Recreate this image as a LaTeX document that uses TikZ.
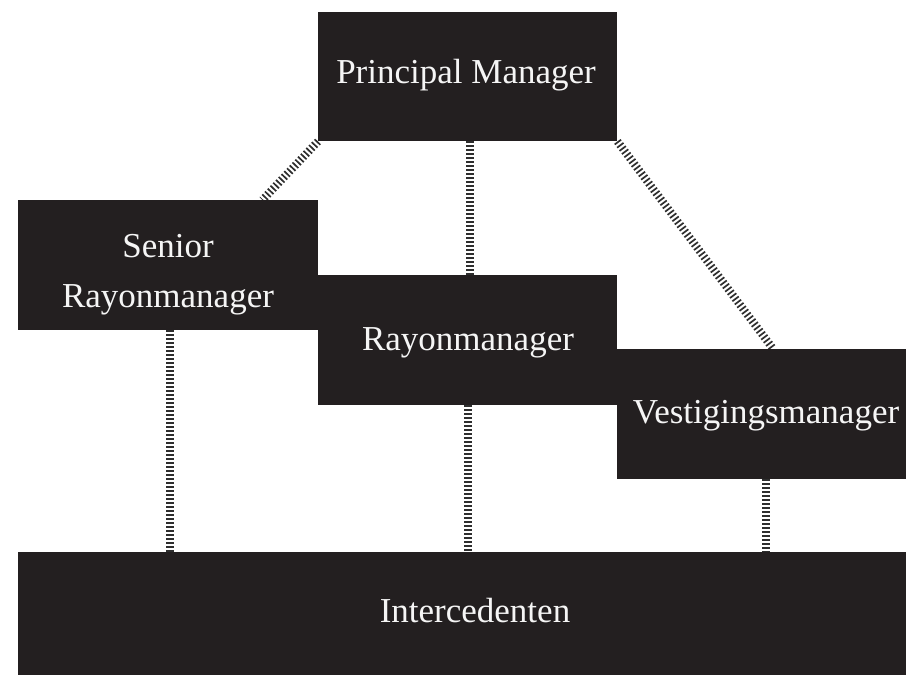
\documentclass[tikz,border=0pt]{standalone}
\usepackage{fontspec}
\setmainfont{Liberation Serif}
\usetikzlibrary{backgrounds}
\definecolor{boxink}{HTML}{231F20}
\definecolor{tickink}{HTML}{2E2E2E}
\tikzset{
  orgbox/.style={fill=boxink, draw=none, inner sep=0pt, anchor=north west},
  orgtext/.style={text=white!96!black, font=\fontsize{35}{52}\selectfont, anchor=base, inner sep=0pt},
  rail/.style={draw=tickink, line width=8pt, dash pattern=on 1.7pt off 2.3pt}
}
\begin{document}
\begin{tikzpicture}[x=1pt, y=-1pt]
  \useasboundingbox (0,0) rectangle (906,675);

  % boxes
  \node[orgbox, minimum width=299pt, minimum height=129pt] (pm) at (318,12) {};
  \node[orgbox, minimum width=300pt, minimum height=130pt] (srm) at (18,200) {};
  \node[orgbox, minimum width=299pt, minimum height=130pt] (rm) at (318,275) {};
  \node[orgbox, minimum width=289pt, minimum height=130pt] (vm) at (617,349) {};
  \node[orgbox, minimum width=888pt, minimum height=124pt] (ic) at (18,552) {};

  % labels
  \node[orgtext] (pm-t) at (466,83) {Principal Manager};
  \node[orgtext] (srm-t1) at (168,257) {Senior};
  \node[orgtext] (srm-t2) at (168,307) {Rayonmanager};
  \node[orgtext] (rm-t) at (468,350) {Rayonmanager};
  \node[orgtext] (vm-t) at (766,423) {Vestigingsmanager};
  \node[orgtext] (ic-t) at (475,622) {Intercedenten};

  % hatched connectors
  \begin{scope}[on background layer]
    \draw[rail] (pm.south west) -- ([xshift=-56pt]srm.north east);
    \draw[rail] ([xshift=2.5pt]pm.south) -- ([xshift=2.5pt]pm.south |- rm.north);
    \draw[rail] (pm.south east) -- ([xshift=11.5pt]vm.north);
    \draw[rail] ([xshift=2pt]srm.south) -- ([xshift=2pt]srm.south |- ic.north);
    \draw[rail] ([xshift=0.5pt]rm.south) -- ([xshift=0.5pt]rm.south |- ic.north);
    \draw[rail] ([xshift=4.5pt]vm.south) -- ([xshift=4.5pt]vm.south |- ic.north);
  \end{scope}
\end{tikzpicture}
\end{document}
